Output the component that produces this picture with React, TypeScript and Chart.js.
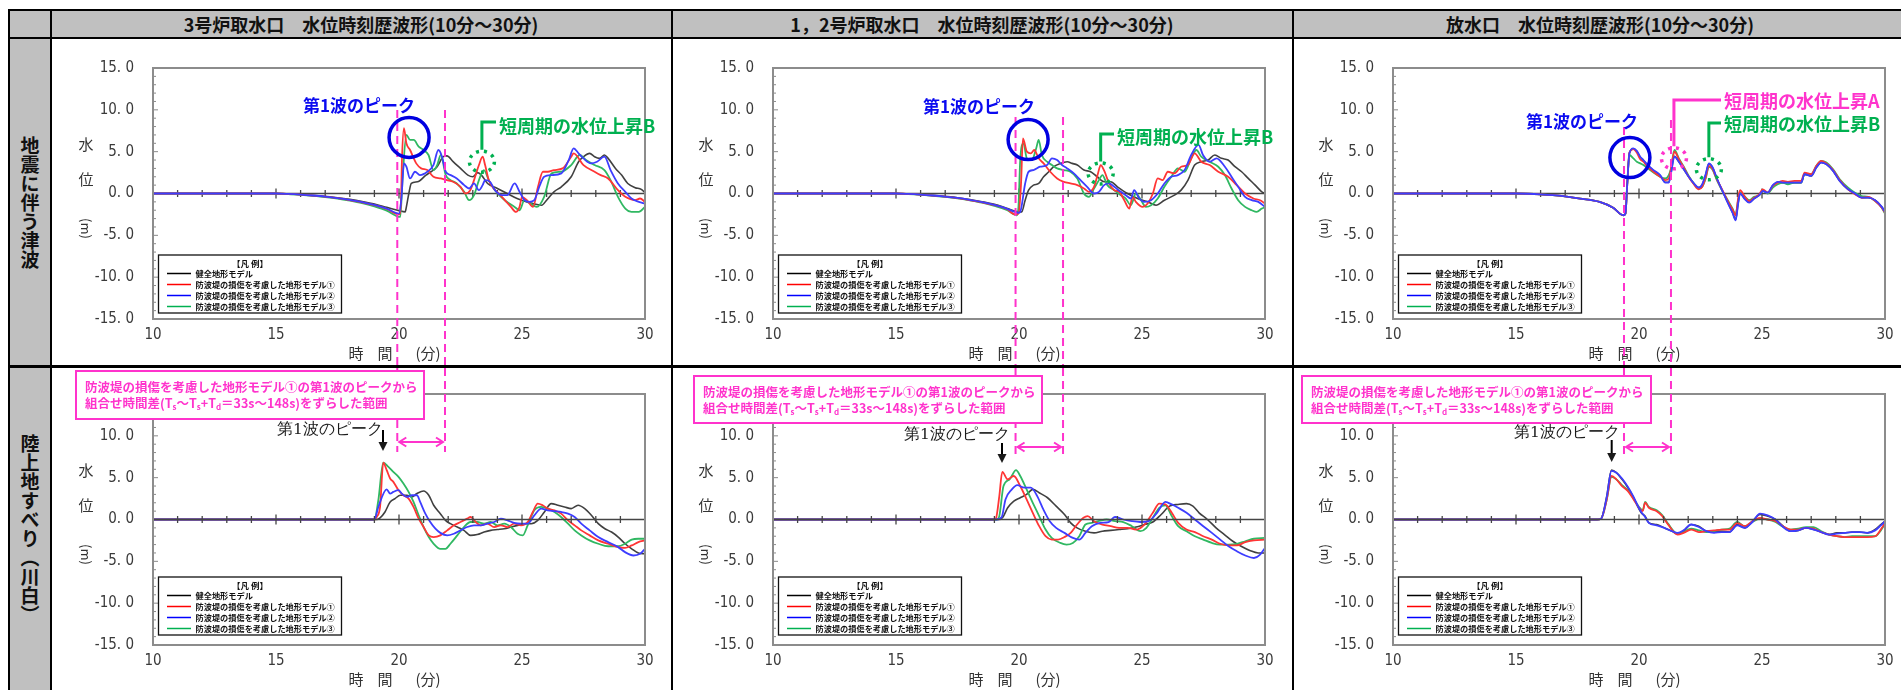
import React, { useEffect, useRef } from "react";
import { Chart, registerables } from "chart.js";

Chart.register(...registerables);

type Pt = [number, number];

// ---------------- axis ticks / texts ----------------
const xTickLabels = [10, 15, 20, 25, 30];
const yTickLabels = [15, 10, 5, 0, -5, -10, -15];
const minuteTicks = [10, 11, 12, 13, 14, 15, 16, 17, 18, 19, 20, 21, 22, 23, 24, 25, 26, 27, 28, 29, 30];
const levelTicks = [-15, -14, -13, -12, -11, -10, -9, -8, -7, -6, -5, -4, -3, -2, -1, 0, 1, 2, 3, 4, 5, 6, 7, 8, 9, 10, 11, 12, 13, 14, 15];

const headerTitles = [
  "3号炉取水口　水位時刻歴波形(10分～30分)",
  "1，2号炉取水口　水位時刻歴波形(10分～30分)",
  "放水口　水位時刻歴波形(10分～30分)",
];
const rowTitles = ["地震に伴う津波", "陸上地すべり（川白）"];
const seriesNames = [
  "健全地形モデル",
  "防波堤の損傷を考慮した地形モデル①",
  "防波堤の損傷を考慮した地形モデル②",
  "防波堤の損傷を考慮した地形モデル③",
];
const seriesColors = ["#404040", "#ff3535", "#3d3dff", "#30b862"];
const legendColors = ["#000000", "#ff0000", "#0000ff", "#00b050"];

// ---------------- data: top row (地震に伴う津波) ----------------
const p1tBlack: Pt[] = [[10,0],[15,0],[15.5,-0.05],[16,-0.12],[16.5,-0.22],[17,-0.35],[17.5,-0.5],[18,-0.7],[18.5,-0.95],[19,-1.25],[19.5,-1.65],[20,-2.05],[20.25,-2.2],[20.3,-1.6],[20.4,0],[20.5,1.2],[20.75,1.4],[21.1,2.2],[21.3,2.6],[21.55,3.2],[21.8,4.4],[21.95,4.5],[22.2,3.8],[22.5,3.0],[22.8,2.2],[23.0,2.0],[23.2,2.5],[23.35,2.2],[23.6,1.2],[24.0,0.6],[24.4,0],[24.8,-0.6],[25.2,-1.0],[25.8,-1.4],[26.0,-0.8],[26.3,0.2],[26.6,0.8],[27.0,2.0],[27.3,3.8],[27.5,4.4],[27.75,4.8],[27.95,4.4],[28.15,4.2],[28.35,4.6],[28.5,4.2],[28.8,3.0],[29.05,2.2],[29.3,1.2],[29.6,0.7],[29.85,0.5],[30,0.1]];
const p1tRed: Pt[] = [[10,0],[15,0],[15.5,-0.05],[16,-0.14],[16.5,-0.25],[17,-0.38],[17.5,-0.55],[18,-0.78],[18.5,-1.05],[19,-1.4],[19.5,-1.85],[20.0,-2.5],[20.08,-1.0],[20.12,4.0],[20.2,7.8],[20.3,6.0],[20.45,5.2],[20.6,4.2],[20.7,3.6],[20.9,3.0],[21.15,2.8],[21.4,2.0],[21.7,1.8],[21.95,1.6],[22.2,1.4],[22.5,0.8],[22.7,0],[22.9,0.4],[23.05,1.6],[23.25,3.4],[23.4,4.4],[23.5,3.4],[23.65,1.6],[23.85,0.6],[24.05,0],[24.3,-0.8],[24.55,-1.6],[24.75,-2.2],[24.9,-1.6],[25.0,-0.4],[25.2,-0.8],[25.45,-1.6],[25.65,0.8],[25.85,2.6],[26.05,2.6],[26.3,2.8],[26.65,3.0],[27.0,4.4],[27.1,4.8],[27.5,3.4],[27.95,2.6],[28.2,2.2],[28.5,1.8],[28.9,0.4],[29.2,-0.4],[29.6,-0.8],[29.8,-0.6],[30,-1.0]];
const p1tBlue: Pt[] = [[10,0],[15,0],[15.5,-0.05],[16,-0.13],[16.5,-0.24],[17,-0.37],[17.5,-0.54],[18,-0.76],[18.5,-1.02],[19,-1.36],[19.5,-1.8],[20.0,-2.4],[20.1,-0.5],[20.2,3.6],[20.3,3.2],[20.45,1.8],[20.65,2.6],[20.85,2.2],[21.15,2.6],[21.4,3.4],[21.6,5.2],[21.75,4.4],[21.9,2.6],[22.1,2.2],[22.35,1.8],[22.65,1.0],[22.85,0.6],[23.05,1.2],[23.25,0.4],[23.4,1.0],[23.5,1.6],[23.7,1.4],[23.9,0.4],[24.2,-0.2],[24.4,-0.2],[24.7,1.2],[24.9,0.2],[25.1,-0.8],[25.3,-1.0],[25.5,-0.8],[25.7,0.8],[25.9,2.0],[26.2,2.2],[26.6,2.4],[26.9,4.0],[27.1,5.4],[27.3,4.8],[27.5,4.2],[27.8,3.6],[28.05,3.8],[28.35,4.4],[28.6,2.8],[28.9,1.2],[29.2,0.2],[29.45,-0.6],[29.75,-1.0],[30,-1.2]];
const p1tGreen: Pt[] = [[10,0],[15,0],[15.5,-0.06],[16,-0.16],[16.5,-0.28],[17,-0.42],[17.5,-0.6],[18,-0.85],[18.5,-1.15],[19,-1.55],[19.5,-2.05],[20.05,-2.8],[20.15,2.0],[20.3,7.0],[20.45,6.4],[20.6,6.4],[20.8,5.6],[21.0,5.2],[21.2,4.6],[21.4,2.8],[21.55,3.4],[21.7,4.6],[21.9,2.2],[22.1,1.6],[22.35,1.2],[22.65,0.2],[22.85,-0.8],[23.05,-0.2],[23.25,1.6],[23.45,2.8],[23.65,1.6],[23.9,0.4],[24.3,-0.8],[24.7,-1.6],[24.9,-2.0],[25.1,-0.8],[25.35,-1.2],[25.6,-1.6],[25.9,-0.4],[26.2,2.4],[26.6,2.6],[27.0,3.4],[27.35,4.6],[27.6,4.0],[27.95,3.4],[28.35,2.8],[28.6,1.6],[28.9,-0.4],[29.2,-1.8],[29.45,-2.2],[29.75,-2.2],[30,-1.6]];

const p2tBlack: Pt[] = [[10,0],[15,0],[15.5,-0.05],[16,-0.12],[16.5,-0.22],[17,-0.35],[17.5,-0.5],[18,-0.72],[18.5,-0.98],[19,-1.3],[19.5,-1.75],[19.98,-2.2],[20.11,-2.2],[20.25,-0.8],[20.39,0.4],[20.59,1.0],[20.8,1.2],[21.0,2.0],[21.21,2.6],[21.41,3.2],[21.68,3.6],[21.96,3.8],[22.16,3.6],[22.37,3.4],[22.64,2.8],[22.91,2.6],[23.18,2.0],[23.46,1.4],[23.73,1.4],[24.0,0.8],[24.41,0],[24.82,-0.6],[25.23,-1.0],[25.57,-1.4],[25.91,-0.8],[26.32,-0.2],[26.59,0.4],[26.87,1.6],[27.14,3.4],[27.41,3.8],[27.69,4.0],[27.96,4.6],[28.23,4.2],[28.5,4.0],[28.78,3.2],[29.05,2.6],[29.32,1.8],[29.6,1.0],[29.87,0.2],[30,0]];
const p2tRed: Pt[] = [[10,0],[15,0],[15.5,-0.05],[16,-0.14],[16.5,-0.25],[17,-0.38],[17.5,-0.55],[18,-0.78],[18.5,-1.05],[19,-1.4],[19.5,-1.85],[19.84,-2.5],[19.98,-2.4],[20.08,1.0],[20.16,6.6],[20.32,5.0],[20.48,4.8],[20.62,5.2],[20.8,4.2],[21.0,3.6],[21.27,2.6],[21.55,1.8],[21.82,1.4],[22.09,1.2],[22.37,1.0],[22.64,0.6],[22.84,0.2],[23.05,0.8],[23.21,2.4],[23.32,3.4],[23.48,2.6],[23.66,1.2],[23.87,0.4],[24.07,0.2],[24.28,-0.8],[24.48,-1.8],[24.62,-0.4],[24.75,-1.0],[25.03,-1.6],[25.23,-1.2],[25.44,0],[25.64,1.8],[25.84,1.6],[26.05,2.6],[26.32,2.4],[26.59,3.2],[26.87,3.4],[27.14,4.8],[27.41,3.8],[27.75,3.4],[28.1,2.6],[28.5,2.0],[28.85,1.0],[29.19,0],[29.53,-0.6],[29.8,-0.8],[30,-1.2]];
const p2tBlue: Pt[] = [[10,0],[15,0],[15.5,-0.05],[16,-0.13],[16.5,-0.24],[17,-0.37],[17.5,-0.53],[18,-0.75],[18.5,-1.02],[19,-1.35],[19.5,-1.8],[19.98,-2.3],[20.05,-2.2],[20.25,1.2],[20.39,2.6],[20.59,2.8],[20.86,3.2],[21.14,3.4],[21.34,4.2],[21.55,4.0],[21.75,3.4],[21.96,3.0],[22.23,2.4],[22.5,1.6],[22.77,0.8],[23.05,0],[23.25,0.2],[23.46,1.0],[23.66,1.2],[23.87,0.8],[24.14,0.2],[24.34,-0.2],[24.55,-0.6],[24.68,0.4],[24.89,-0.6],[25.09,-1.0],[25.37,-0.8],[25.64,0],[25.91,1.2],[26.19,2.0],[26.46,2.2],[26.73,2.8],[27.0,4.6],[27.3,5.8],[27.48,4.6],[27.75,3.8],[28.03,4.2],[28.37,3.2],[28.64,2.0],[28.91,0.8],[29.19,-0.4],[29.46,-0.8],[29.73,-1.0],[30,-1.6]];
const p2tGreen: Pt[] = [[10,0],[15,0],[15.5,-0.06],[16,-0.15],[16.5,-0.27],[17,-0.4],[17.5,-0.58],[18,-0.82],[18.5,-1.1],[19,-1.48],[19.5,-1.95],[19.91,-2.6],[19.98,-1.5],[20.05,4.0],[20.18,6.0],[20.32,4.2],[20.52,4.0],[20.7,5.4],[20.8,6.4],[20.93,4.6],[21.14,3.8],[21.34,3.4],[21.55,3.0],[21.82,2.8],[22.09,2.6],[22.37,1.8],[22.64,0],[22.84,-0.4],[23.05,0.6],[23.25,1.6],[23.39,2.2],[23.59,1.0],[23.87,0.4],[24.14,-0.2],[24.34,-0.6],[24.55,-1.4],[24.75,0],[24.96,-0.8],[25.16,-1.6],[25.37,-1.4],[25.64,-0.6],[25.91,0.8],[26.19,2.0],[26.46,3.0],[26.73,2.6],[27.0,4.2],[27.21,5.2],[27.41,4.4],[27.75,3.8],[28.1,3.2],[28.37,2.2],[28.64,0.6],[28.91,-0.8],[29.19,-1.6],[29.46,-2.0],[29.66,-2.2],[29.87,-1.8],[30,-1.6]];

const p3tBlack: Pt[] = [[10,0],[15,0],[15.5,-0.03],[16,-0.1],[16.5,-0.2],[17,-0.35],[17.6,-0.6],[18.4,-1.0],[18.95,-1.7],[19.36,-2.6],[19.45,-2.4],[19.52,1.0],[19.61,4.8],[19.77,5.35],[19.91,5.05],[20.05,4.35],[20.18,3.95],[20.32,3.45],[20.59,2.75],[20.86,2.15],[21.07,1.35],[21.21,1.35],[21.3,2.45],[21.44,4.45],[21.62,3.8],[21.82,2.9],[22.02,2.0],[22.23,1.2],[22.43,0.7],[22.57,1.05],[22.71,2.25],[22.84,3.55],[22.98,3.15],[23.18,1.7],[23.39,0.3],[23.59,-0.95],[23.8,-2.25],[23.93,-3.1],[24.03,-1.15],[24.11,0.0],[24.28,-0.55],[24.48,-1.05],[24.68,-0.6],[24.89,-0.2],[25.03,0.3],[25.23,0.1],[25.44,0.95],[25.64,1.35],[25.84,1.3],[26.05,1.3],[26.32,1.3],[26.59,1.3],[26.73,2.3],[27.0,2.1],[27.21,3.1],[27.41,3.7],[27.62,3.5],[27.89,2.7],[28.16,1.5],[28.5,0.5],[28.78,0],[29.05,-0.5],[29.32,-0.5],[29.6,-0.8],[29.87,-1.6],[30,-2.2]];
const p3tRed: Pt[] = [[10,0],[15,0],[15.5,-0.03],[16,-0.1],[16.5,-0.2],[17,-0.35],[17.6,-0.6],[18.4,-1.0],[18.95,-1.7],[19.36,-2.6],[19.45,-2.4],[19.52,1.0],[19.61,4.9],[19.77,5.3],[19.91,4.9],[20.05,4.1],[20.18,3.8],[20.32,3.3],[20.59,2.6],[20.86,2.0],[21.07,1.6],[21.21,1.8],[21.3,2.9],[21.44,5.0],[21.62,4.1],[21.82,3.1],[22.02,2.0],[22.23,1.1],[22.43,0.5],[22.57,0.8],[22.71,1.9],[22.84,3.3],[22.98,3.0],[23.18,1.6],[23.39,0.4],[23.59,-0.8],[23.8,-1.9],[23.93,-2.6],[24.03,-0.6],[24.11,0.4],[24.28,-0.3],[24.48,-0.9],[24.68,-0.5],[24.89,-0.1],[25.03,0.5],[25.23,0.1],[25.44,0.9],[25.64,1.3],[25.84,1.5],[26.05,1.4],[26.32,1.5],[26.59,1.5],[26.73,2.5],[27.0,2.3],[27.21,3.3],[27.41,3.9],[27.62,3.6],[27.89,2.8],[28.16,1.6],[28.5,0.5],[28.78,-0.1],[29.05,-0.5],[29.32,-0.4],[29.6,-0.9],[29.87,-1.7],[30,-2.3]];
const p3tBlue: Pt[] = [[10,0],[15,0],[15.5,-0.03],[16,-0.1],[16.5,-0.2],[17,-0.35],[17.6,-0.6],[18.4,-1.0],[18.95,-1.7],[19.36,-2.6],[19.45,-2.4],[19.52,1.0],[19.61,4.8],[19.77,5.4],[19.91,5.1],[20.05,4.4],[20.18,4.0],[20.32,3.5],[20.59,2.8],[20.86,2.2],[21.07,1.3],[21.21,1.3],[21.3,2.4],[21.44,4.4],[21.62,3.8],[21.82,2.9],[22.02,2.0],[22.23,1.2],[22.43,0.7],[22.57,1.1],[22.71,2.3],[22.84,3.6],[22.98,3.2],[23.18,1.7],[23.39,0.3],[23.59,-1.0],[23.8,-2.3],[23.93,-3.2],[24.03,-1.2],[24.11,0.0],[24.28,-0.6],[24.48,-1.1],[24.68,-0.6],[24.89,-0.2],[25.03,0.3],[25.23,0.1],[25.44,1.0],[25.64,1.4],[25.84,1.3],[26.05,1.3],[26.32,1.3],[26.59,1.3],[26.73,2.3],[27.0,2.1],[27.21,3.1],[27.41,3.7],[27.62,3.5],[27.89,2.7],[28.16,1.5],[28.5,0.5],[28.78,0],[29.05,-0.5],[29.32,-0.5],[29.6,-0.8],[29.87,-1.6],[30,-2.2]];
const p3tGreen: Pt[] = [[10,0],[15,0],[15.5,-0.03],[16,-0.1],[16.5,-0.2],[17,-0.35],[17.6,-0.6],[18.4,-1.0],[18.95,-1.7],[19.36,-2.6],[19.45,-2.4],[19.52,1.0],[19.61,4.6],[19.77,4.2],[19.91,3.8],[20.05,3.6],[20.18,3.4],[20.32,3.1],[20.59,2.5],[20.86,2.0],[21.07,1.8],[21.21,2.2],[21.3,3.0],[21.44,5.2],[21.62,4.2],[21.82,3.2],[22.02,2.1],[22.23,1.2],[22.43,0.6],[22.57,0.8],[22.71,1.8],[22.84,3.2],[22.98,2.9],[23.18,1.5],[23.39,0.3],[23.59,-0.7],[23.8,-1.8],[23.93,-2.5],[24.03,-0.8],[24.11,0.1],[24.28,-0.3],[24.48,-0.8],[24.68,-0.4],[24.89,-0.2],[25.03,0.4],[25.23,0],[25.44,0.7],[25.64,1.1],[25.84,1.3],[26.05,1.1],[26.32,1.3],[26.59,1.3],[26.73,2.3],[27.0,2.3],[27.21,3.3],[27.41,3.9],[27.62,3.7],[27.89,2.9],[28.16,1.7],[28.5,0.7],[28.78,0.1],[29.05,-0.3],[29.32,-0.4],[29.6,-0.9],[29.87,-1.7],[30,-2.4]];

// ---------------- data: bottom row (陸上地すべり) ----------------
const p1bBlack: Pt[] = [[10,0],[19.1,0],[19.23,0.2],[19.43,0.9],[19.64,2.1],[19.84,2.5],[20.05,2.9],[20.32,2.9],[20.52,2.7],[20.73,3.1],[21.0,3.4],[21.21,2.9],[21.41,1.7],[21.68,0.7],[21.89,-0.1],[22.09,-0.5],[22.37,-0.9],[22.64,-1.3],[22.91,-1.9],[23.18,-1.8],[23.46,-1.5],[23.73,-1.3],[24.0,-1.2],[24.28,-1.1],[24.55,-0.9],[24.82,-0.7],[25.09,-0.5],[25.37,-0.5],[25.64,-0.1],[25.91,0.9],[26.19,1.9],[26.46,1.7],[26.73,1.5],[27.0,1.3],[27.28,1.7],[27.55,1.3],[27.82,0.5],[28.1,-0.5],[28.37,-1.1],[28.64,-1.5],[28.91,-2.1],[29.19,-2.9],[29.46,-3.5],[29.73,-4.0],[30,-4.1]];
const p1bRed: Pt[] = [[10,0],[19,0],[19.09,0.3],[19.23,1.5],[19.36,6.8],[19.5,5.9],[19.64,4.9],[19.77,4.5],[19.98,3.5],[20.18,2.9],[20.39,2.5],[20.59,1.5],[20.8,0.1],[21.0,-0.9],[21.21,-1.9],[21.41,-2.1],[21.68,-1.9],[21.96,-1.3],[22.23,-0.7],[22.5,-0.3],[22.77,0.1],[22.91,0.3],[23.12,-0.3],[23.32,-0.7],[23.59,-0.5],[23.87,-0.9],[24.14,-0.7],[24.41,-0.9],[24.68,-0.5],[24.96,-0.7],[25.23,-0.3],[25.44,0.9],[25.64,1.9],[25.84,1.7],[26.05,1.3],[26.32,1.1],[26.59,0.7],[26.87,-0.1],[27.14,-0.7],[27.41,-1.3],[27.75,-1.9],[28.1,-2.5],[28.5,-2.9],[28.91,-3.3],[29.19,-3.4],[29.46,-3.1],[29.73,-2.7],[30,-2.5]];
const p1bBlue: Pt[] = [[10,0],[19,0],[19.16,1.5],[19.5,3.6],[19.64,3.1],[19.77,3.3],[19.98,3.5],[20.11,3.1],[20.32,2.7],[20.52,2.9],[20.73,2.9],[20.86,2.1],[21.07,0.7],[21.27,-0.3],[21.48,-1.1],[21.68,-1.6],[21.96,-1.9],[22.23,-1.7],[22.5,-1.3],[22.77,-0.9],[23.05,-0.7],[23.32,-0.7],[23.59,-0.5],[23.87,-0.3],[24.14,0.1],[24.41,-0.1],[24.68,-0.4],[24.96,-0.5],[25.23,-0.5],[25.5,0.5],[25.78,1.3],[26.05,1.1],[26.32,1.0],[26.59,0.9],[26.87,0.7],[27.14,0.3],[27.41,-0.5],[27.75,-1.3],[28.1,-2.1],[28.5,-2.7],[28.91,-3.3],[29.19,-3.9],[29.53,-4.3],[29.8,-4.1],[30,-3.5]];
const p1bGreen: Pt[] = [[10,0],[19,0],[19.16,2.3],[19.36,6.8],[19.57,6.3],[19.77,5.7],[19.98,5.1],[20.18,4.3],[20.39,3.3],[20.59,2.1],[20.8,0.5],[21.0,-0.9],[21.21,-2.1],[21.41,-2.9],[21.68,-3.5],[21.89,-3.5],[22.09,-2.9],[22.37,-1.9],[22.64,-0.9],[22.91,-0.3],[23.18,-0.3],[23.46,-0.5],[23.73,-0.3],[24.0,-0.7],[24.28,-0.5],[24.55,-0.9],[24.82,-1.7],[25.03,-1.9],[25.23,-0.7],[25.5,1.1],[25.78,1.5],[26.05,1.3],[26.32,0.9],[26.59,0.3],[26.87,-0.5],[27.14,-1.3],[27.41,-1.9],[27.75,-2.5],[28.1,-2.9],[28.5,-3.2],[28.91,-3.2],[29.19,-2.9],[29.46,-2.4],[29.73,-2.3],[30,-2.3]];

const p2bBlack: Pt[] = [[10,0],[19.2,0],[19.35,0.3],[19.54,1.4],[19.79,2.2],[20.05,2.6],[20.31,3.0],[20.56,3.6],[20.82,3.2],[21.16,2.6],[21.51,1.6],[21.85,0.6],[22.1,-0.4],[22.36,-1.0],[22.7,-1.4],[23.05,-1.6],[23.39,-1.4],[23.73,-1.3],[24.07,-1.2],[24.41,-1.1],[24.76,-0.9],[25.1,-0.6],[25.44,-0.3],[25.78,0.6],[26.12,1.6],[26.47,1.8],[26.81,1.9],[27.07,1.6],[27.32,0.8],[27.66,0],[28.01,-1.0],[28.35,-1.8],[28.69,-2.6],[29.03,-3.2],[29.38,-3.7],[29.72,-4.0],[30,-4.0]];
const p2bRed: Pt[] = [[10,0],[19,0],[19.06,0.1],[19.2,2.8],[19.32,5.7],[19.54,4.8],[19.79,5.2],[20.05,4.0],[20.31,2.4],[20.56,0.8],[20.82,-0.8],[21.08,-2.0],[21.33,-2.4],[21.59,-2.4],[21.85,-2.1],[22.1,-1.6],[22.36,-0.6],[22.62,0.2],[22.79,0.4],[23.05,-0.2],[23.39,-0.6],[23.73,-0.8],[24.07,-1.0],[24.41,-1.0],[24.76,-1.2],[25.1,-0.6],[25.44,0.8],[25.7,1.9],[25.95,1.8],[26.21,0.8],[26.47,-0.4],[26.81,-1.2],[27.15,-1.5],[27.49,-2.0],[27.84,-2.4],[28.18,-2.9],[28.52,-3.1],[28.86,-3.1],[29.2,-2.7],[29.55,-2.5],[30,-2.4]];
const p2bBlue: Pt[] = [[10,0],[19.1,0],[19.3,0.3],[19.45,2.4],[19.71,3.6],[19.93,4.1],[20.22,3.8],[20.48,3.8],[20.74,2.8],[20.99,1.2],[21.25,-0.2],[21.51,-1.0],[21.85,-1.6],[22.19,-2.2],[22.45,-2.4],[22.7,-1.6],[22.96,-0.8],[23.3,-0.4],[23.64,-0.3],[23.9,0.3],[24.24,0],[24.59,-0.2],[24.93,-0.3],[25.27,-0.2],[25.61,0.8],[25.95,2.1],[26.21,1.8],[26.47,1.4],[26.81,0.8],[27.15,0],[27.49,-0.8],[27.84,-1.6],[28.18,-2.4],[28.52,-3.2],[28.86,-3.8],[29.2,-4.3],[29.55,-4.6],[29.8,-4.2],[30,-3.4]];
const p2bGreen: Pt[] = [[10,0],[19.1,0],[19.2,0.4],[19.37,4.0],[19.62,4.8],[19.88,5.9],[20.05,5.2],[20.31,3.6],[20.56,2.0],[20.82,0.4],[21.08,-1.2],[21.33,-2.2],[21.68,-2.8],[21.93,-3.0],[22.19,-2.8],[22.45,-2.0],[22.7,-0.6],[22.96,-0.4],[23.22,-0.2],[23.56,0],[23.9,-0.2],[24.24,-0.3],[24.59,-0.8],[24.93,-1.4],[25.18,-1.0],[25.44,0.2],[25.7,1.4],[25.95,1.7],[26.21,0.4],[26.47,-0.8],[26.81,-1.4],[27.15,-2.0],[27.49,-2.4],[27.84,-2.8],[28.18,-3.0],[28.52,-3.0],[28.86,-2.9],[29.2,-2.6],[29.55,-2.3],[30,-2.2]];

const p3bBlack: Pt[] = [[10,0],[18.3,0],[18.46,0.1],[18.69,2.8],[18.88,5.9],[19.08,5.6],[19.31,4.8],[19.55,3.8],[19.78,2.6],[19.94,1.6],[20.09,0.8],[20.25,0.4],[20.4,-0.4],[20.72,-0.6],[21.03,-1.0],[21.34,-1.4],[21.57,-1.7],[21.81,-1.4],[22.12,-0.6],[22.43,-0.8],[22.74,-1.4],[23.05,-1.5],[23.36,-1.4],[23.68,-1.5],[23.99,-0.6],[24.3,-1.0],[24.61,-0.2],[24.92,0.6],[25.23,0.4],[25.55,0],[25.86,-0.8],[26.17,-1.4],[26.48,-1.3],[26.79,-1.0],[27.1,-1.2],[27.41,-1.5],[27.73,-1.8],[28.04,-1.6],[28.35,-1.6],[28.66,-1.5],[28.97,-1.5],[29.28,-1.6],[29.6,-1.2],[29.83,-0.6],[30,-0.2]];
const p3bRed: Pt[] = [[10,0],[18.3,0],[18.46,0.1],[18.69,2.4],[18.88,5.2],[19.08,4.8],[19.31,4.0],[19.55,3.4],[19.78,2.4],[20.0,1.4],[20.15,1.0],[20.25,2.0],[20.4,1.4],[20.72,1.0],[20.95,0.4],[21.18,-0.6],[21.57,-1.8],[21.81,-1.6],[22.12,-1.2],[22.43,-1.5],[22.74,-1.4],[23.05,-1.3],[23.36,-1.2],[23.68,-1.2],[23.99,-0.4],[24.3,-0.8],[24.61,-0.2],[24.92,0.2],[25.23,0],[25.55,-0.2],[25.86,-0.8],[26.17,-1.2],[26.48,-1.2],[26.79,-1.0],[27.1,-1.1],[27.41,-1.5],[27.73,-1.8],[28.04,-2.0],[28.35,-2.1],[28.66,-2.1],[28.97,-2.1],[29.28,-2.1],[29.6,-2.0],[29.83,-1.2],[30,-0.4]];
const p3bBlue: Pt[] = [[10,0],[18.3,0],[18.46,0.1],[18.69,2.7],[18.88,5.8],[19.08,5.6],[19.31,4.9],[19.55,3.9],[19.78,2.7],[19.94,1.7],[20.09,0.9],[20.25,0.3],[20.4,-0.4],[20.72,-0.7],[21.03,-1.0],[21.34,-1.4],[21.57,-1.6],[21.81,-1.3],[22.12,-0.6],[22.43,-0.9],[22.74,-1.4],[23.05,-1.6],[23.36,-1.5],[23.68,-1.5],[23.99,-0.7],[24.3,-1.0],[24.61,-0.3],[24.92,0.7],[25.23,0.5],[25.55,0],[25.86,-0.9],[26.17,-1.4],[26.48,-1.3],[26.79,-1.0],[27.1,-1.2],[27.41,-1.5],[27.73,-1.8],[28.04,-1.7],[28.35,-1.6],[28.66,-1.5],[28.97,-1.5],[29.28,-1.6],[29.6,-1.3],[29.83,-0.7],[30,-0.2]];
const p3bGreen: Pt[] = [[10,0],[18.3,0],[18.46,0.1],[18.69,2.4],[18.88,5.1],[19.08,4.8],[19.31,4.1],[19.55,3.5],[19.78,2.5],[20.0,1.5],[20.15,1.1],[20.25,2.1],[20.4,1.5],[20.72,1.1],[20.95,0.5],[21.18,-0.5],[21.57,-1.7],[21.81,-1.5],[22.12,-1.1],[22.43,-1.3],[22.74,-1.5],[23.05,-1.4],[23.36,-1.2],[23.68,-1.1],[23.99,-0.3],[24.3,-0.8],[24.61,-0.3],[24.92,0.1],[25.23,0],[25.55,-0.3],[25.86,-0.9],[26.17,-1.2],[26.48,-1.1],[26.79,-0.9],[27.1,-0.9],[27.41,-1.4],[27.73,-1.8],[28.04,-2.0],[28.35,-2.1],[28.66,-2.0],[28.97,-2.0],[29.28,-2.0],[29.6,-2.0],[29.83,-1.3],[30,-0.5]];

// ---------------- annotation values (minutes / m) ----------------
const shiftStart = [19.93, 19.86, 19.39];
const shiftEnd = [21.87, 21.79, 21.3];
const landslidePeakT = [19.35, 19.31, 18.89];
const quakePeak: Pt[] = [[20.41, 6.7], [20.37, 6.45], [19.63, 4.3]];
const riseB: Pt[] = [[23.37, 3.8], [23.32, 2.4], [22.84, 2.9]];
const riseA: Pt = [21.42, 4.2];

// ---------------- layout (page px) ----------------
const COL_LEFT = [52, 673, 1294];
const ROW_TOP = [39, 368];
const ROW_H = [326, 322];
const CANVAS_W = 619;
const PLOT_LEFT = [153, 773, 1393];
const PLOT_TOP = [68, 394];
const PLOT_W = 492;
const PLOT_H = 251;
const LEGEND_GAP = [6, 10];

const topDeco = [
  { blueText: [303, 106], dashTop: [110, 110], bTopY: 122, bTextX: 499, bTextY: 126 },
  { blueText: [923, 107], dashTop: [117, 117], bTopY: 134, bTextX: 1117, bTextY: 137 },
  { blueText: [1526, 122], dashTop: [127, 120], bTopY: 123, bTextX: 1724, bTextY: 124, aTopY: 100, aTextX: 1724, aTextY: 101 },
];
const bottomDeco = [
  { box: [76, 371, 424, 419], peakText: [277, 430], arrow: [430, 451], dbl: 442, dashEnd: 452 },
  { box: [694, 376, 1042, 423], peakText: [904, 435], arrow: [443, 463], dbl: 447, dashEnd: 457 },
  { box: [1302, 376, 1651, 423], peakText: [1514, 433], arrow: [440, 462], dbl: 447, dashEnd: 457 },
];

const panels = [
  { row: 0, col: 0, data: [p1tBlack, p1tRed, p1tBlue, p1tGreen] },
  { row: 0, col: 1, data: [p2tBlack, p2tRed, p2tBlue, p2tGreen] },
  { row: 0, col: 2, data: [p3tBlack, p3tRed, p3tBlue, p3tGreen] },
  { row: 1, col: 0, data: [p1bBlack, p1bRed, p1bBlue, p1bGreen] },
  { row: 1, col: 1, data: [p2bBlack, p2bRed, p2bBlue, p2bGreen] },
  { row: 1, col: 2, data: [p3bBlack, p3bRed, p3bBlue, p3bGreen] },
];
// Chart.js paints the first dataset last (on top): blue, red, green, then black underneath
const drawOrder = [2, 1, 3, 0];

const FONT_NUM = '"Liberation Sans Narrow", "DejaVu Sans Condensed", "Liberation Sans", sans-serif';
const FONT_JP = '"Noto Sans CJK JP", "Noto Sans CJK SC", sans-serif';
const MAGENTA = "#ff33cc";
const GREEN = "#00b050";
const BLUE = "#0a0af0";

function seg(ctx: any, x1: number, y1: number, x2: number, y2: number) {
  ctx.beginPath();
  ctx.moveTo(x1, y1);
  ctx.lineTo(x2, y2);
  ctx.stroke();
}

function drawZeroAxis(chart: any) {
  const ctx = chart.ctx;
  const { left, right } = chart.chartArea;
  const xs = chart.scales.x;
  const ys = chart.scales.y;
  const y0 = ys.getPixelForValue(0);
  ctx.save();
  ctx.strokeStyle = "#454545";
  ctx.lineWidth = 1.6;
  seg(ctx, left, y0, right, y0);
  ctx.lineWidth = 1.3;
  minuteTicks.forEach((m) => {
    const x = xs.getPixelForValue(m);
    const h = m % 5 === 0 ? 5 : 3.5;
    seg(ctx, x, y0 - h, x, y0 + h);
  });
  ctx.restore();
}

function makeDeco(p: any) {
  const ox = COL_LEFT[p.col];
  const oy = ROW_TOP[p.row];
  const X = (v: number) => v - ox;
  const Y = (v: number) => v - oy;
  return {
    id: "panelDeco" + p.row + p.col,
    beforeDatasetsDraw(chart: any) {
      const ctx = chart.ctx;
      const { left } = chart.chartArea;
      const ys = chart.scales.y;
      ctx.save();
      ctx.strokeStyle = "#8a8a8a";
      ctx.lineWidth = 1;
      levelTicks.forEach((v) => {
        const y = ys.getPixelForValue(v);
        seg(ctx, left, y, left + (v % 5 === 0 ? 5 : 3), y);
      });
      ctx.restore();
      if (p.row === 0) drawZeroAxis(chart);
    },
    afterDatasetsDraw(chart: any) {
      if (p.row === 1) drawZeroAxis(chart);
      const ctx = chart.ctx;
      const { left, right, top, bottom } = chart.chartArea;
      const xs = chart.scales.x;
      const ys = chart.scales.y;
      const y0 = ys.getPixelForValue(0);
      const H = chart.height;
      ctx.save();
      ctx.strokeStyle = "#8c8c8c";
      ctx.lineWidth = 2;
      ctx.strokeRect(left, top, right - left, bottom - top);
      ctx.fillStyle = "#3a3a3a";
      ctx.font = `15px ${FONT_NUM}`;
      ctx.textAlign = "right";
      ctx.textBaseline = "middle";
      yTickLabels.forEach((v) => {
        ctx.fillText(v.toFixed(1).replace(".", ". "), left - 19, ys.getPixelForValue(v));
      });
      ctx.textAlign = "center";
      xTickLabels.forEach((t) => {
        ctx.fillText(String(t), xs.getPixelForValue(t), bottom + 16);
      });
      ctx.font = `15px ${FONT_JP}`;
      ctx.fillStyle = "#333";
      ctx.fillText("時", left + 203, bottom + 34);
      ctx.fillText("間", left + 232, bottom + 34);
      ctx.fillText("(分)", left + 275, bottom + 34);
      ctx.fillText("水", left - 67, y0 - 49);
      ctx.fillText("位", left - 67, y0 - 14);
      ctx.save();
      ctx.translate(left - 67, y0 + 35);
      ctx.rotate(Math.PI / 2);
      ctx.font = `13px ${FONT_JP}`;
      ctx.fillText("(m)", 0, 0);
      ctx.restore();
      const lw = 183;
      const lh = 58;
      const lx = left + 5.5;
      const lt = bottom - LEGEND_GAP[p.row] - lh;
      ctx.fillStyle = "#fff";
      ctx.fillRect(lx, lt, lw, lh);
      ctx.strokeStyle = "#111";
      ctx.lineWidth = 1.3;
      ctx.strokeRect(lx, lt, lw, lh);
      ctx.fillStyle = "#111";
      ctx.font = `bold 8.5px ${FONT_JP}`;
      ctx.textAlign = "center";
      ctx.fillText("【凡 例】", lx + lw / 2, lt + 8.5);
      ctx.textAlign = "left";
      ctx.font = `bold 8.2px ${FONT_JP}`;
      seriesNames.forEach((name, i) => {
        const y = lt + 18.5 + i * 11;
        ctx.strokeStyle = legendColors[i];
        ctx.lineWidth = 1.5;
        seg(ctx, lx + 8.5, y, lx + 32.5, y);
        ctx.fillStyle = "#111";
        ctx.fillText(name, lx + 37, y);
      });

      const xa = xs.getPixelForValue(shiftStart[p.col]);
      const xb = xs.getPixelForValue(shiftEnd[p.col]);
      if (p.row === 0) {
        const d: any = topDeco[p.col];
        ctx.strokeStyle = MAGENTA;
        ctx.lineWidth = 2;
        ctx.setLineDash([8, 5]);
        seg(ctx, xa, Y(d.dashTop[0]), xa, H);
        seg(ctx, xb, Y(d.dashTop[1]), xb, H);
        ctx.setLineDash([]);
        ctx.fillStyle = BLUE;
        ctx.font = `bold 17px ${FONT_JP}`;
        ctx.textAlign = "left";
        ctx.fillText("第1波のピーク", X(d.blueText[0]), Y(d.blueText[1]));
        ctx.strokeStyle = "#0000e0";
        ctx.lineWidth = 3.5;
        ctx.beginPath();
        ctx.arc(xs.getPixelForValue(quakePeak[p.col][0]), ys.getPixelForValue(quakePeak[p.col][1]), 20, 0, Math.PI * 2);
        ctx.stroke();
        const marks: any[] = [];
        if (p.col === 2) marks.push({ pt: riseA, color: MAGENTA, topY: d.aTopY, textX: d.aTextX, textY: d.aTextY, label: "短周期の水位上昇A" });
        marks.push({ pt: riseB[p.col], color: GREEN, topY: d.bTopY, textX: d.bTextX, textY: d.bTextY, label: "短周期の水位上昇B" });
        marks.forEach((m) => {
          const cx = xs.getPixelForValue(m.pt[0]);
          const cy = ys.getPixelForValue(m.pt[1]);
          ctx.strokeStyle = m.color;
          ctx.lineWidth = 3.5;
          ctx.setLineDash([3, 5]);
          ctx.beginPath();
          ctx.ellipse(cx, cy, 12.5, 10.5, 0, 0, Math.PI * 2);
          ctx.stroke();
          ctx.setLineDash([]);
          ctx.lineWidth = 3;
          ctx.beginPath();
          ctx.moveTo(cx, cy - 12);
          ctx.lineTo(cx, Y(m.topY));
          ctx.lineTo(X(m.textX) - 3, Y(m.topY));
          ctx.stroke();
          ctx.fillStyle = m.color;
          ctx.font = `bold 18px ${FONT_JP}`;
          ctx.textAlign = "left";
          ctx.fillText(m.label, X(m.textX), Y(m.textY));
        });
      } else {
        const d: any = bottomDeco[p.col];
        ctx.strokeStyle = MAGENTA;
        ctx.lineWidth = 2;
        ctx.setLineDash([8, 5]);
        seg(ctx, xa, 0, xa, Y(d.dashEnd));
        seg(ctx, xb, 0, xb, Y(d.dashEnd));
        ctx.setLineDash([]);
        const [bx1, by1, bx2, by2] = d.box;
        ctx.fillStyle = "#fff";
        ctx.fillRect(X(bx1), Y(by1), bx2 - bx1, by2 - by1);
        ctx.strokeStyle = MAGENTA;
        ctx.lineWidth = 2;
        ctx.strokeRect(X(bx1), Y(by1), bx2 - bx1, by2 - by1);
        ctx.fillStyle = MAGENTA;
        ctx.textAlign = "left";
        ctx.font = `bold 12.5px ${FONT_JP}`;
        const tx = X(bx1 + 9);
        ctx.fillText("防波堤の損傷を考慮した地形モデル①の第1波のピークから", tx, Y(by1 + 16.5));
        const parts: [string, boolean][] = [["組合せ時間差(T", false], ["s", true], ["～T", false], ["s", true], ["+T", false], ["d", true], ["＝33s～148s)をずらした範囲", false]];
        let cx = tx;
        const ly = Y(by1 + 32.5);
        parts.forEach(([s, sub]) => {
          ctx.font = sub ? `bold 8px ${FONT_JP}` : `bold 12.5px ${FONT_JP}`;
          ctx.fillText(s, cx, sub ? ly + 3.5 : ly);
          cx += ctx.measureText(s).width;
        });
        ctx.fillStyle = "#1a1a1a";
        ctx.font = `15.5px "DejaVu Serif", serif`;
        ctx.fillText("第1波のピーク", X(d.peakText[0]), Y(d.peakText[1]));
        const ax = xs.getPixelForValue(landslidePeakT[p.col]);
        const ay1 = Y(d.arrow[0]);
        const ay2 = Y(d.arrow[1]);
        ctx.strokeStyle = "#000";
        ctx.lineWidth = 2;
        seg(ctx, ax, ay1, ax, ay2 - 7);
        ctx.beginPath();
        ctx.moveTo(ax - 4.5, ay2 - 9);
        ctx.lineTo(ax + 4.5, ay2 - 9);
        ctx.lineTo(ax, ay2);
        ctx.closePath();
        ctx.fill();
        const dy = Y(d.dbl);
        ctx.strokeStyle = MAGENTA;
        ctx.lineWidth = 2;
        seg(ctx, xa + 2, dy, xb - 2, dy);
        ctx.beginPath();
        ctx.moveTo(xa + 9, dy - 4.5);
        ctx.lineTo(xa + 2, dy);
        ctx.lineTo(xa + 9, dy + 4.5);
        ctx.moveTo(xb - 9, dy - 4.5);
        ctx.lineTo(xb - 2, dy);
        ctx.lineTo(xb - 9, dy + 4.5);
        ctx.stroke();
      }
      ctx.restore();
    },
  };
}

function Panel({ idx }: { idx: number }) {
  const ref = useRef<HTMLCanvasElement>(null);
  const p = panels[idx];
  const h = ROW_H[p.row];
  useEffect(() => {
    const padLeft = PLOT_LEFT[p.col] - COL_LEFT[p.col];
    const padTop = PLOT_TOP[p.row] - ROW_TOP[p.row];
    const chart = new Chart(ref.current as HTMLCanvasElement, {
      type: "line",
      data: {
        datasets: drawOrder.map((si) => ({
          label: seriesNames[si],
          data: p.data[si].map(([x, y]) => ({ x, y })),
          borderColor: seriesColors[si],
          backgroundColor: seriesColors[si],
          borderWidth: si === 0 ? 1.6 : 1.8,
          pointRadius: 0,
          fill: false,
          cubicInterpolationMode: "monotone",
        })),
      },
      options: {
        animation: false,
        responsive: false,
        maintainAspectRatio: false,
        devicePixelRatio: 1,
        events: [],
        layout: {
          padding: {
            left: padLeft,
            right: CANVAS_W - padLeft - PLOT_W,
            top: padTop,
            bottom: h - padTop - PLOT_H,
          },
        },
        plugins: { legend: { display: false }, tooltip: { enabled: false }, title: { display: false } },
        scales: {
          x: { type: "linear", min: 10, max: 30, display: false },
          y: { type: "linear", min: -15, max: 15, display: false },
        },
      } as any,
      plugins: [makeDeco(p) as any],
    });
    return () => chart.destroy();
  }, [idx]);
  return (
    <canvas
      ref={ref}
      width={CANVAS_W}
      height={h}
      style={{ position: "absolute", left: COL_LEFT[p.col], top: ROW_TOP[p.row], width: CANVAS_W, height: h }}
    />
  );
}

const hLine = (top: number, height: number) => ({ position: "absolute" as const, left: 8, top, width: 1901, height, background: "#000" });
const vLine = (left: number, width: number) => ({ position: "absolute" as const, left, top: 9, width, height: 690, background: "#000" });

export default function App() {
  const colCenters = [361, 982, 1600];
  return (
    <div style={{ position: "absolute", left: 0, top: 0, width: 1901, height: 690, overflow: "hidden", background: "#fff" }}>
      <div style={{ position: "absolute", left: 10, top: 11, width: 1891, height: 26, background: "#c0c0c0" }} />
      <div style={{ position: "absolute", left: 10, top: 11, width: 40, height: 679, background: "#c0c0c0" }} />
      {panels.map((_, i) => (
        <Panel key={i} idx={i} />
      ))}
      <div style={hLine(9, 2)} />
      <div style={hLine(37, 2)} />
      <div style={hLine(365, 3)} />
      <div style={vLine(8, 2)} />
      <div style={vLine(50, 2)} />
      <div style={vLine(671, 2)} />
      <div style={vLine(1292, 2)} />
      {headerTitles.map((t, i) => (
        <div
          key={t}
          style={{
            position: "absolute",
            left: colCenters[i] - 300,
            top: 11,
            width: 600,
            height: 26,
            lineHeight: "26px",
            textAlign: "center",
            fontFamily: FONT_JP,
            fontWeight: 700,
            fontSize: 18,
            color: "#111",
            whiteSpace: "nowrap",
          }}
        >
          {t}
        </div>
      ))}
      {rowTitles.map((t, i) => (
        <div
          key={t}
          style={{
            position: "absolute",
            left: 10,
            top: i === 0 ? 39 : 368,
            width: 40,
            height: i === 0 ? 326 : 322,
            display: "flex",
            alignItems: "center",
            justifyContent: "center",
          }}
        >
          <div style={{ writingMode: "vertical-rl", fontFamily: FONT_JP, fontWeight: 700, fontSize: 19, lineHeight: "19px", color: "#111", letterSpacing: 0 }}>{t}</div>
        </div>
      ))}
    </div>
  );
}
